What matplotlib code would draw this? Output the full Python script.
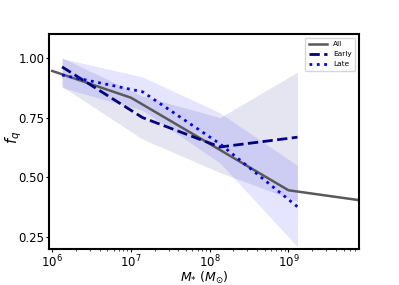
import matplotlib
matplotlib.use("Agg")
import matplotlib.pyplot as plt
import numpy as np

# Data
mass_all = [1e6, 1e7, 1e8, 1e9, 1e10]
fq_all = [0.945, 0.833, 0.64, 0.446, 0.40]

mass_sub = [1.33e6, 1.4e7, 1.35e8, 1.3e9]
fq_early = [0.962, 0.75, 0.627, 0.668]
early_lo = [0.88, 0.66, 0.52, 0.40]
early_hi = [1.0, 0.84, 0.75, 0.94]

fq_late = [0.928, 0.858, 0.64, 0.377]
late_lo = [0.875, 0.78, 0.56, 0.21]
late_hi = [0.997, 0.92, 0.77, 0.55]

fig = plt.figure(figsize=(3.99, 2.85), dpi=100)
ax = fig.add_axes([0.124, 0.126, 0.776, 0.755])

ax.fill_between(mass_sub, early_lo, early_hi, color='navy', alpha=0.1, lw=0)
ax.fill_between(mass_sub, late_lo, late_hi, color='blue', alpha=0.1, lw=0)
ax.plot(mass_all, fq_all, color='0.35', lw=1.8, label='All')
ax.plot(mass_sub, fq_early, color='navy', ls='--', lw=2, label='Early')
ax.plot(mass_sub, fq_late, color='blue', ls=':', lw=2, label='Late')

ax.set_xscale('log')
ax.set_xlim(10**5.964, 10**9.897)
ax.set_ylim(0.2, 1.1)
ax.set_yticks([0.25, 0.5, 0.75, 1.0])
ax.set_yticklabels(['0.25', '0.50', '0.75', '1.00'])
ax.tick_params(which='major', labelsize=8.5, length=2, width=0.8, pad=1.5)
ax.tick_params(which='minor', length=1.2, width=0.5)
for s in ax.spines.values():
    s.set_linewidth(1.5)
ax.set_xlabel(r'$M_{*}\ (M_{\odot})$', fontsize=9)
ax.xaxis.set_label_coords(0.5, -0.098)
ax.set_ylabel(r'$f_q$', fontsize=10.5)
ax.yaxis.set_label_coords(-0.082, 0.52)
leg = ax.legend(loc='upper right', fontsize=5.3, handlelength=2.5, borderpad=0.5,
                labelspacing=0.5)

fig.savefig('out.png', dpi=100)
